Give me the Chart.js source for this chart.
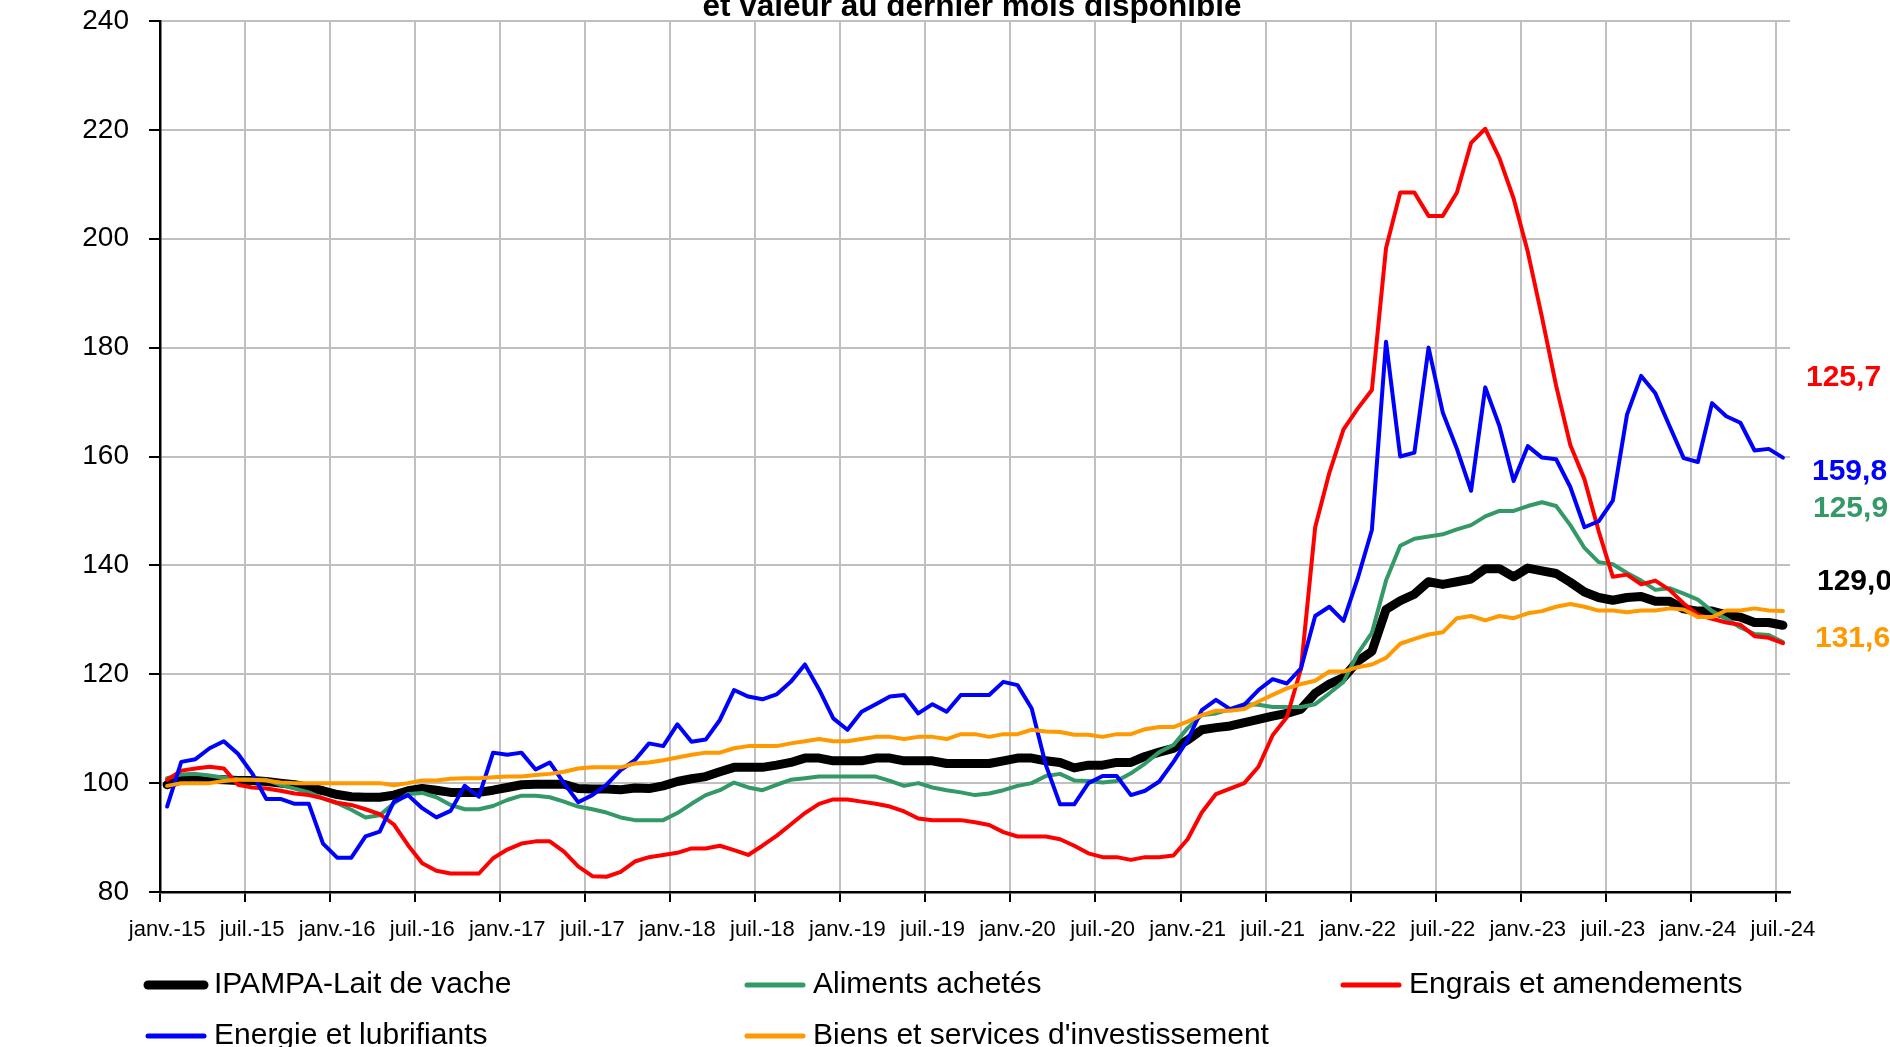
<!DOCTYPE html>
<html><head><meta charset="utf-8">
<script src="https://cdn.jsdelivr.net/npm/chart.js@4.4.1/dist/chart.umd.min.js"></script>
<style>html,body{margin:0;padding:0;background:#fff;overflow:hidden}</style>
</head><body>
<canvas id="c" width="1890" height="1047"></canvas>
<script>
// ---------- DATA ----------
const monthAbbr = ['janv.','févr.','mars','avr.','mai','juin','juil.','août','sept.','oct.','nov.','déc.'];
const startYear = 2015, nMonths = 115; // janv.-15 .. juil.-24
const tickLabels = ['janv.-15','juil.-15','janv.-16','juil.-16','janv.-17','juil.-17','janv.-18','juil.-18','janv.-19','juil.-19','janv.-20','juil.-20','janv.-21','juil.-21','janv.-22','juil.-22','janv.-23','juil.-23','janv.-24','juil.-24'];
const seriesNames = ['IPAMPA-Lait de vache','Aliments achetés','Engrais et amendements','Energie et lubrifiants',"Biens et services d'investissement"];

const ipampaLait = [
99.7,100.6,100.8,100.7,100.6,100.5,100.5,100.3,100.0,99.7,
99.2,98.6,97.9,97.5,97.4,97.4,97.8,98.6,99.0,98.7,
98.3,98.3,98.3,98.7,99.2,99.7,99.8,99.8,99.8,99.0,
98.9,98.9,98.8,99.1,99.0,99.5,100.3,100.8,101.2,102.1,
102.9,102.9,102.9,103.3,103.8,104.6,104.6,104.1,104.1,104.1,
104.6,104.6,104.1,104.1,104.1,103.6,103.6,103.6,103.6,104.1,
104.6,104.6,104.1,103.8,102.8,103.3,103.3,103.8,103.8,104.9,
105.7,106.4,107.9,109.8,110.2,110.5,111.1,111.7,112.3,112.8,
113.6,116.5,118.2,119.4,122.4,124.2,131.9,133.5,134.7,137.0,
136.5,137.0,137.5,139.4,139.4,137.9,139.5,139.0,138.5,136.9,
135.1,134.1,133.6,134.1,134.3,133.4,133.4,132.0,131.6,131.6,
130.9,130.5,129.5,129.5,129.0];

const alimentsAchetes = [
100.9,101.6,101.7,101.4,101.0,100.7,100.6,100.6,99.7,99.0,
98.3,97.2,96.3,95.1,93.7,94.1,96.3,98.0,98.2,97.4,
96.0,95.2,95.2,95.8,96.9,97.7,97.7,97.4,96.6,95.7,
95.2,94.6,93.7,93.2,93.2,93.2,94.5,96.2,97.8,98.7,
100.1,99.2,98.7,99.7,100.6,100.9,101.2,101.2,101.2,101.2,
101.2,100.4,99.5,100.0,99.2,98.7,98.3,97.8,98.1,98.7,
99.5,100.0,101.3,101.7,100.5,100.4,100.1,100.4,101.8,103.6,
105.7,107.0,110.1,112.5,112.8,113.6,114.5,114.4,114.0,114.0,
114.0,114.5,116.5,118.6,123.8,127.6,137.2,143.6,144.9,145.3,
145.7,146.6,147.4,149.0,150.0,150.0,150.9,151.6,150.9,147.4,
143.2,140.6,140.2,138.6,137.2,135.5,135.8,134.8,133.7,131.6,
130.2,128.6,127.4,127.2,125.9];

const engrais = [
100.6,102.3,102.7,103.0,102.7,99.7,99.2,99.0,98.6,98.1,
97.8,97.2,96.4,96.0,95.2,94.3,92.4,88.6,85.3,83.9,
83.4,83.4,83.4,86.2,87.8,88.9,89.3,89.3,87.4,84.7,
82.9,82.8,83.7,85.6,86.4,86.8,87.2,88.0,88.0,88.5,
87.7,86.8,88.5,90.3,92.4,94.5,96.2,97.0,97.0,96.6,
96.2,95.7,94.8,93.5,93.2,93.2,93.2,92.8,92.3,91.0,
90.2,90.2,90.2,89.7,88.5,87.1,86.4,86.4,85.9,86.4,
86.4,86.7,89.7,94.6,98.0,99.0,100.0,103.0,108.8,112.1,
121.0,147.0,157.0,165.0,168.8,172.2,198.3,208.5,208.5,204.2,
204.2,208.5,217.6,220.2,214.8,207.4,197.6,185.6,173.0,162.1,
155.8,146.3,137.9,138.3,136.5,137.2,135.5,133.0,130.9,130.2,
129.5,129.1,127.0,126.7,125.7];

const energie = [
95.7,103.9,104.4,106.4,107.7,105.4,101.8,97.1,97.1,96.2,
96.2,88.9,86.3,86.3,90.2,91.1,96.6,97.8,95.4,93.7,
94.9,99.5,97.5,105.6,105.2,105.6,102.5,103.8,100.0,96.5,
97.8,99.7,102.4,104.2,107.3,106.8,110.8,107.6,108.0,111.6,
117.1,115.9,115.4,116.3,118.6,121.8,117.2,111.9,109.8,113.1,
114.5,115.9,116.2,112.8,114.5,113.1,116.2,116.2,116.2,118.6,
118.0,113.7,103.3,96.1,96.1,100.0,101.3,101.3,97.8,98.6,
100.3,103.9,107.9,113.4,115.3,113.6,114.4,117.1,119.1,118.3,
121.1,130.7,132.4,129.8,137.6,146.5,181.1,160.0,160.7,180.0,
168.1,161.4,153.7,172.7,165.6,155.5,161.9,159.8,159.5,154.4,
147.0,148.1,151.9,167.7,174.8,171.6,165.6,159.7,159.0,169.8,
167.4,166.2,161.1,161.4,159.8];

const biensInvest = [
99.5,100.0,100.0,100.0,100.4,100.6,100.6,100.5,100.1,100.0,
100.0,100.0,100.0,100.0,100.0,100.0,99.6,100.0,100.5,100.5,
100.8,100.9,100.9,101.1,101.2,101.2,101.5,101.7,102.1,102.7,
102.9,102.9,102.9,103.6,103.8,104.2,104.7,105.2,105.6,105.6,
106.4,106.8,106.8,106.8,107.3,107.7,108.1,107.7,107.7,108.1,
108.5,108.5,108.1,108.5,108.5,108.1,109.0,109.0,108.5,109.0,
109.0,109.8,109.5,109.4,108.9,108.9,108.5,109.0,109.0,109.9,
110.3,110.3,111.3,112.5,113.3,113.3,113.6,115.0,116.2,117.4,
118.2,118.8,120.5,120.5,121.3,121.8,123.0,125.6,126.5,127.3,
127.7,130.3,130.7,129.9,130.7,130.3,131.2,131.6,132.4,132.9,
132.4,131.7,131.7,131.4,131.7,131.7,132.1,131.9,130.5,130.5,
131.7,131.7,132.1,131.7,131.6];

const titleText = 'et valeur au dernier mois disponible';

// ---------- BUILD ----------
const categories = [];
for (let i = 0; i < nMonths; i++) {
  const y = startYear + Math.floor(i / 12);
  categories.push(monthAbbr[i % 12] + '-' + String(y).slice(2));
}
const FONT = '"Liberation Sans", Arial, sans-serif';
const COL = { black:'#000000', green:'#339966', red:'#ff0000', blue:'#0000ff', orange:'#ff9900' };

const datasets = [
  { label: seriesNames[0], data: ipampaLait, borderColor: COL.black, borderWidth: 9, order: 5 },
  { label: seriesNames[1], data: alimentsAchetes, borderColor: COL.green, borderWidth: 4, order: 4 },
  { label: seriesNames[2], data: engrais, borderColor: COL.red, borderWidth: 4, order: 3 },
  { label: seriesNames[3], data: energie, borderColor: COL.blue, borderWidth: 4, order: 2 },
  { label: seriesNames[4], data: biensInvest, borderColor: COL.orange, borderWidth: 4, order: 1 }
];

const fmt = v => v.toFixed(1).replace('.', ',');

const decor = {
  id: 'decor',
  afterDraw(chart) {
    const ctx = chart.ctx, ca = chart.chartArea;
    ctx.save();
    // title (only the second line is visible in the frame)
    ctx.fillStyle = '#000';
    ctx.font = 'bold 31.5px ' + FONT;
    ctx.textAlign = 'center';
    ctx.textBaseline = 'alphabetic';
    ctx.fillText(titleText, 972, 15.5);

    // last-value labels at the right
    const endCfg = [
      { ds: 2, dx: 16, py: 377.5 },
      { ds: 3, dx: 22, py: 471.7 },
      { ds: 1, dx: 23, py: 509 },
      { ds: 0, dx: 27, py: 581.7 },
      { ds: 4, dx: 25, py: 639 }
    ];
    ctx.font = 'bold 30px ' + FONT;
    ctx.textAlign = 'left';
    ctx.textBaseline = 'middle';
    endCfg.forEach(e => {
      const d = chart.data.datasets[e.ds];
      ctx.fillStyle = d.borderColor;
      ctx.fillText(fmt(d.data[d.data.length - 1]), ca.right + e.dx, e.py);
    });

    // legend (3 columns, 2 rows)
    const cols = [145, 744, 1340], rows = [985, 1036];
    ctx.font = '30px ' + FONT;
    ctx.textBaseline = 'middle';
    chart.data.datasets.forEach((d, i) => {
      const x = cols[i % 3], y = rows[Math.floor(i / 3)];
      ctx.strokeStyle = d.borderColor;
      ctx.lineWidth = i === 0 ? 9 : 5;
      ctx.lineCap = 'round';
      ctx.beginPath();
      ctx.moveTo(x + 3, y);
      ctx.lineTo(x + 59, y);
      ctx.stroke();
      ctx.fillStyle = '#000';
      ctx.fillText(d.label, x + 69, y);
    });
    ctx.restore();
  }
};

new Chart(document.getElementById('c'), {
  type: 'line',
  data: { labels: categories, datasets },
  options: {
    responsive: false,
    animation: false,
    layout: { padding: { left: 0, right: 100, top: 21, bottom: 95 } },
    plugins: { legend: { display: false }, tooltip: { enabled: false }, title: { display: false } },
    elements: {
      point: { radius: 0, hoverRadius: 0 },
      line: { tension: 0, fill: false, borderCapStyle: 'round', borderJoinStyle: 'round' }
    },
    scales: {
      x: {
        type: 'category',
        offset: true,
        grid: {
          offset: true,
          color: c => (c.index !== undefined && c.index % 6 === 0) ? '#c0c0c0' : 'rgba(0,0,0,0)',
          tickColor: c => (c.index !== undefined && c.index % 6 === 0) ? '#000' : 'rgba(0,0,0,0)',
          lineWidth: 2,
          tickWidth: 2,
          tickLength: 10
        },
        border: { color: '#000', width: 2.5 },
        ticks: {
          autoSkip: false, maxRotation: 0, minRotation: 0, padding: 15,
          color: '#000', font: { family: FONT, size: 22 },
          callback: (v, i) => (i % 6 === 0 ? tickLabels[i / 6] : '')
        },
        afterFit: s => { s.height = 60; s.paddingLeft = 0; s.paddingRight = 0; }
      },
      y: {
        min: 80, max: 240,
        ticks: { stepSize: 20, padding: 20, color: '#000', font: { family: FONT, size: 28 } },
        grid: { color: '#c0c0c0', lineWidth: 2, tickColor: '#000', tickWidth: 2, tickLength: 11 },
        border: { color: '#000', width: 2.5 },
        afterFit: s => { s.width = 160; s.paddingTop = 0; s.paddingBottom = 0; }
      }
    }
  },
  plugins: [decor]
});
</script>
</body></html>
